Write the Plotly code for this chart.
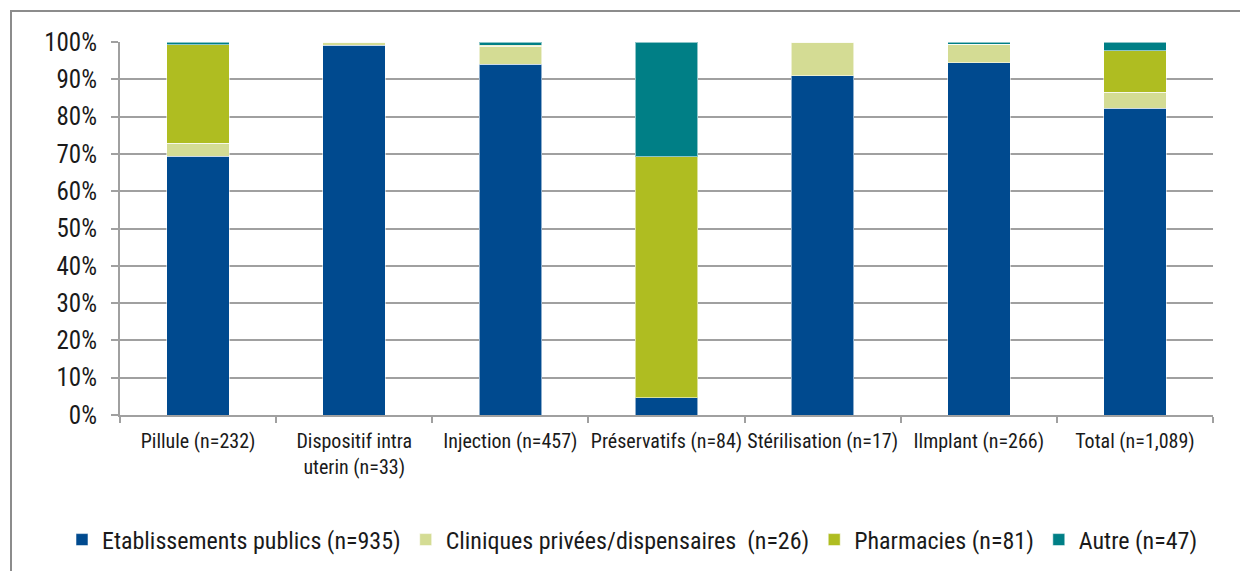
import plotly.graph_objects as go

categories = ["Pillule (n=232)", "Dispositif intra<br>uterin (n=33)", "Injection (n=457)",
              "Préservatifs (n=84)", "Stérilisation (n=17)", "Ilmplant (n=266)", "Total (n=1,089)"]
series_names = ["Etablissements publics (n=935)", "Cliniques privées/dispensaires  (n=26)",
                "Pharmacies (n=81)", "Autre (n=47)"]
publics = [69.4, 99.1, 94.1, 4.6, 90.9, 94.4, 82.3]
cliniques = [3.4, 0.9, 4.7, 0.0, 9.1, 5.0, 4.2]
pharmacies = [26.4, 0.0, 0.3, 64.6, 0.0, 0.0, 11.1]
autre = [0.8, 0.0, 0.9, 30.8, 0.0, 0.6, 2.4]
colors = ["#004A8F", "#D4DC94", "#AFBD21", "#007F86"]
yticks = list(range(0, 101, 10))

# page has an 8px body margin; figure coordinates are page coordinates minus 8
OFF = 8
W, H = 1240, 563
ML, MT = 120 - OFF, 42 - OFF
MR = W - (1213 - OFF)
MB = H - (415 - OFF)
pw, ph = W - ML - MR, H - MT - MB

FONT = "Liberation Sans Narrow, Arial Narrow, Roboto Condensed, Liberation Sans, sans-serif"

fig = go.Figure()
for name, vals, col in zip(series_names, [publics, cliniques, pharmacies, autre], colors):
    fig.add_trace(go.Bar(x=categories, y=vals, name=name,
                         marker=dict(color=col, line=dict(color="rgba(255,255,255,0.55)", width=1))))

def px_to_paper_x(px):
    return (px - OFF - ML) / pw

def px_to_paper_y(py):
    return (H - MB - (py - OFF)) / ph

fig.add_shape(type="rect", xref="paper", yref="paper",
              x0=px_to_paper_x(11), x1=px_to_paper_x(1300),
              y0=px_to_paper_y(650), y1=px_to_paper_y(11),
              line=dict(color="#8c8c8c", width=2), fillcolor="rgba(0,0,0,0)", layer="below")

fig.update_layout(
    barmode="stack", bargap=0.6,
    width=W, height=H,
    margin=dict(l=ML, r=MR, t=MT, b=MB, autoexpand=False),
    paper_bgcolor="white", plot_bgcolor="white",
    font=dict(family=FONT, color="#1a1a1a"),
    showlegend=True,
    legend=dict(orientation="h", xref="paper", yref="paper",
                x=px_to_paper_x(62), xanchor="left",
                y=px_to_paper_y(540), yanchor="middle",
                font=dict(size=24, family=FONT, color="#1a1a1a"),
                traceorder="normal", itemwidth=30),
    xaxis=dict(tickfont=dict(size=20, family=FONT), tickangle=0, showline=True, linecolor="#a0a0a0",
               linewidth=2, ticks="outside", ticklen=6, tickcolor="#a0a0a0", tickwidth=2,
               tickson="boundaries", ticklabelstandoff=7),
    yaxis=dict(range=[0, 100], tickvals=yticks, ticktext=[f"{v}%" for v in yticks],
               tickfont=dict(size=25, family=FONT), showgrid=True, gridcolor="#a0a0a0", gridwidth=2,
               showline=True, linecolor="#a0a0a0", linewidth=2, ticks="outside", ticklen=7,
               tickcolor="#a0a0a0", tickwidth=2, ticklabelstandoff=9, zeroline=False),
)

fig.write_html("out.html")
